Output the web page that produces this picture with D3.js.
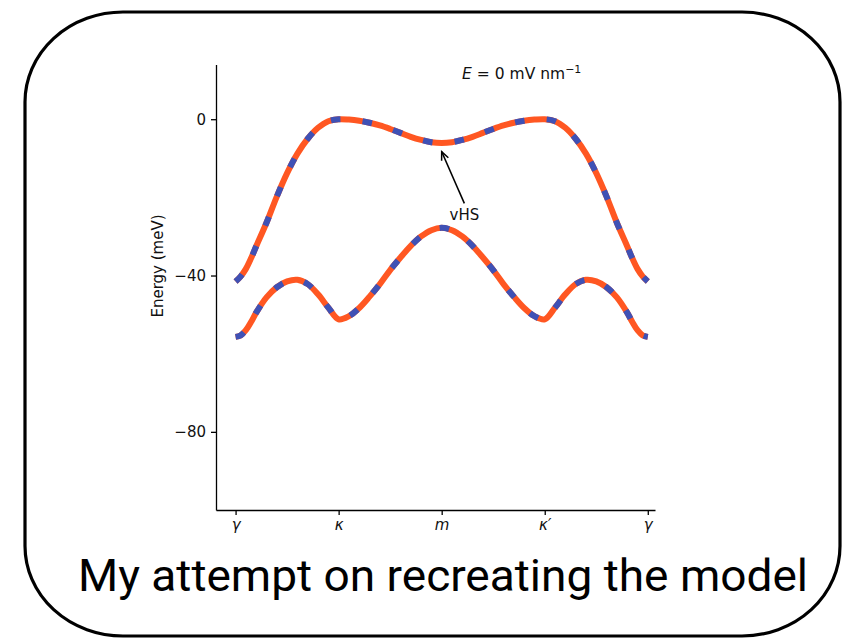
<!DOCTYPE html>
<html>
<head>
<meta charset="utf-8">
<script src="https://cdn.jsdelivr.net/npm/d3@7"></script>
<style>
  html, body { margin: 0; padding: 0; background: #ffffff; }
  svg { display: block; }
</style>
</head>
<body>
<svg id="chart" width="843" height="640"></svg>
<script>
// Path coordinate along γ → κ → m → κ′ → γ (one unit per segment)
const kPath = [0, 0.05, 0.1, 0.15, 0.2, 0.3, 0.4, 0.5, 0.6, 0.7, 0.8, 0.9, 1.0,
  1.1, 1.2, 1.3, 1.4, 1.5, 1.6, 1.7, 1.8, 1.9, 2.0,
  2.1, 2.2, 2.3, 2.4, 2.5, 2.6, 2.7, 2.8, 2.9, 3.0,
  3.1, 3.2, 3.3, 3.4, 3.5, 3.6, 3.7, 3.8, 3.85, 3.9, 3.95, 4.0];

// Upper band energy (meV)
const upperBand = [-41.5, -40.2, -38.3, -35.6, -32.5, -26.5, -19.8, -13.8, -8.8, -5.0, -2.2, -0.5, 0.0,
  -0.1, -0.4, -0.9, -1.6, -2.5, -3.5, -4.5, -5.3, -5.9, -6.1,
  -5.9, -5.3, -4.5, -3.5, -2.5, -1.6, -0.9, -0.4, -0.1, 0.0,
  -0.5, -2.2, -5.0, -8.8, -13.8, -19.8, -26.5, -32.5, -35.6, -38.3, -40.2, -41.5];

// Lower band energy (meV)
const lowerBand = [-55.7, -55.3, -54.0, -51.9, -49.5, -45.6, -43.0, -41.5, -41.1, -42.2, -44.8, -48.2, -51.2,
  -50.4, -48.3, -45.4, -42.2, -38.6, -35.4, -32.4, -30.0, -28.4, -27.8,
  -28.4, -30.0, -32.4, -35.4, -38.6, -42.2, -45.4, -48.3, -50.4, -51.2,
  -48.2, -44.8, -42.2, -41.1, -41.5, -43.0, -45.6, -49.5, -51.9, -54.0, -55.3, -55.7];

// High-symmetry points
const xTickValues = [0, 1, 2, 3, 4];
const xTickLabels = ["γ", "κ", "m", "κ′", "γ"];
const yTickValues = [0, -40, -80];

// Annotation: van Hove singularity at m
const vhsPoint = [2, -8.3];
const vhsText = [2.22, -24.6];

const svg = d3.select("#chart");

// Rounded frame with elliptical corners
const fL = 25, fT = 12, fR = 840, fB = 636, rx = 98, ry = 90;
svg.append("path")
  .attr("d", `M${fL + rx},${fT} H${fR - rx} A${rx},${ry} 0 0 1 ${fR},${fT + ry}
    V${fB - ry} A${rx},${ry} 0 0 1 ${fR - rx},${fB} H${fL + rx}
    A${rx},${ry} 0 0 1 ${fL},${fB - ry} V${fT + ry} A${rx},${ry} 0 0 1 ${fL + rx},${fT} Z`)
  .attr("fill", "none")
  .attr("stroke", "#000")
  .attr("stroke-width", 3.2);

// Scales
const x = d3.scaleLinear().domain([-0.19, 4.07]).range([216, 655]);
const y = d3.scaleLinear().domain([-100, 14]).range([510, 64.5]);

const font = "'DejaVu Sans', sans-serif";

// Axes
const yAxis = d3.axisLeft(y).tickValues(yTickValues).tickSize(5).tickSizeOuter(0).tickPadding(5)
  .tickFormat(d3.format("d"));
const gy = svg.append("g").attr("transform", `translate(${x.range()[0]},0)`).call(yAxis);

const xAxis = d3.axisBottom(x).tickValues(xTickValues).tickSize(5).tickSizeOuter(0).tickPadding(4)
  .tickFormat((d, i) => xTickLabels[i]);
const gx = svg.append("g").attr("transform", `translate(0,${y.range()[0]})`).call(xAxis);

[gx, gy].forEach(g => {
  g.selectAll("path.domain").attr("stroke", "#000").attr("stroke-width", 1.3);
  g.selectAll(".tick line").attr("stroke", "#000").attr("stroke-width", 1.3);
  g.selectAll(".tick text").attr("fill", "#111").attr("font-family", font).attr("font-size", 15);
});
gx.selectAll(".tick text").attr("font-style", "italic");

// Axis label
svg.append("text")
  .attr("transform", "translate(163,266) rotate(-90)")
  .attr("text-anchor", "middle")
  .attr("font-family", font)
  .attr("font-size", 15)
  .attr("fill", "#111")
  .text("Energy (meV)");

// Band lines: solid orange with blue dashes on top
const line = d3.line()
  .x((d, i) => x(kPath[i]))
  .y(d => y(d))
  .curve(d3.curveCatmullRom.alpha(0.5));

[lowerBand, upperBand].forEach(band => {
  svg.append("path")
    .attr("d", line(band))
    .attr("fill", "none")
    .attr("stroke", "#FF5722")
    .attr("stroke-width", 6);
  svg.append("path")
    .attr("d", line(band))
    .attr("fill", "none")
    .attr("stroke", "#3F51B5")
    .attr("stroke-width", 6)
    .attr("stroke-dasharray", "9.6 22.2");
});

// Field label (math-style spacing around "=")
const fieldLabel = svg.append("text")
  .attr("x", 462).attr("y", 79)
  .attr("font-family", font).attr("font-size", 15.5).attr("fill", "#111");
fieldLabel.append("tspan").attr("font-style", "italic").text("E");
fieldLabel.append("tspan").attr("dx", 5).text("=");
fieldLabel.append("tspan").attr("dx", 5).text("0 mV nm");
fieldLabel.append("tspan").attr("dy", -6).attr("font-size", 11).text("−1");

// vHS annotation with open arrowhead
const tx = x(vhsText[0]), ty = y(vhsText[1]);
const ax = x(vhsPoint[0]), ay = y(vhsPoint[1]);
svg.append("text")
  .attr("x", tx).attr("y", ty + 5)
  .attr("text-anchor", "middle")
  .attr("font-family", font).attr("font-size", 15).attr("fill", "#111")
  .text("vHS");
const sx = tx, sy = ty - 12;
svg.append("line")
  .attr("x1", sx).attr("y1", sy).attr("x2", ax).attr("y2", ay)
  .attr("stroke", "#000").attr("stroke-width", 1.5);
const ang = Math.atan2(ay - sy, ax - sx);
const hl = 9, hw = 0.42;
svg.append("path")
  .attr("d", `M${ax - hl * Math.cos(ang - hw)},${ay - hl * Math.sin(ang - hw)} L${ax},${ay} L${ax - hl * Math.cos(ang + hw)},${ay - hl * Math.sin(ang + hw)}`)
  .attr("fill", "none").attr("stroke", "#000").attr("stroke-width", 1.5);

// Caption
svg.append("text")
  .attr("x", 443).attr("y", 591)
  .attr("text-anchor", "middle")
  .attr("font-family", "Roboto, 'Noto Sans', sans-serif")
  .attr("font-size", 44)
  .attr("textLength", 730)
  .attr("lengthAdjust", "spacingAndGlyphs")
  .attr("fill", "#000")
  .text("My attempt on recreating the model");
</script>
</body>
</html>
